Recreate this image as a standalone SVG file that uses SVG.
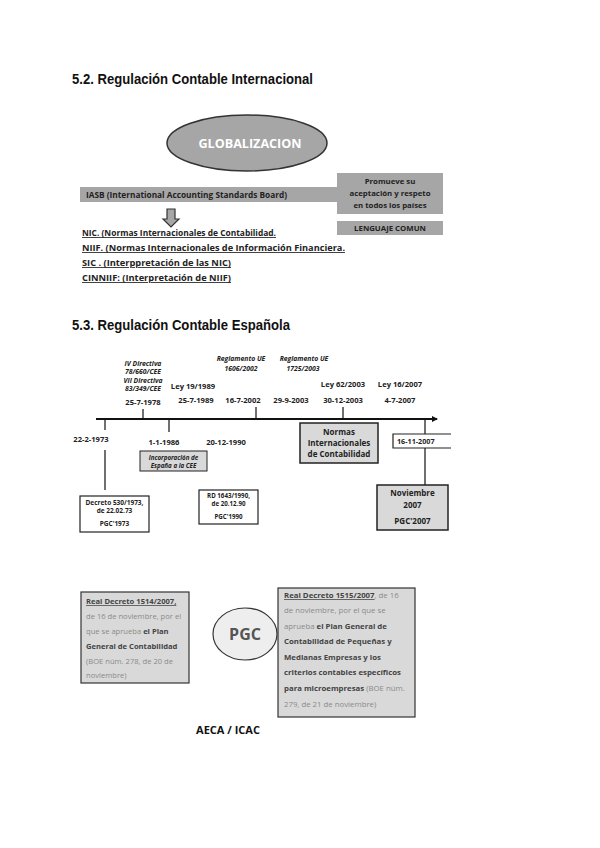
<svg xmlns="http://www.w3.org/2000/svg" width="600" height="848" viewBox="0 0 600 848">
<style>
.t{font-family:"Liberation Sans",Arial,sans-serif;font-weight:bold;fill:#111}
.c{font-family:"Open Sans","Liberation Sans",sans-serif;font-weight:bold;fill:#222}
.i{font-style:italic}
.u{text-decoration:underline}
.g{fill:#8a8a8a;font-weight:normal}
.d{fill:#333}
.mid{fill:#a6a6a6}
.lt{fill:#d9d9d9;stroke:#222;stroke-width:1.5}
.wb{fill:#fff;stroke:#222;stroke-width:1.2}
.ln{stroke:#111;stroke-width:1.2;fill:none}
</style>
<defs>
<marker id="ah" markerWidth="6" markerHeight="6" refX="5" refY="3" orient="auto" markerUnits="userSpaceOnUse"><path d="M0,0 L6,3 L0,6 Z" fill="#111"/></marker>
</defs>
<rect width="600" height="848" fill="#fff"/>

<text class="t" x="72" y="84" font-size="15" textLength="241" lengthAdjust="spacingAndGlyphs">5.2. Regulación Contable Internacional</text>

<g id="globalizacion">
<ellipse cx="247" cy="143" rx="80" ry="28" fill="#a6a6a6" stroke="#333" stroke-width="1.5"/>
<text class="c" x="250" y="148" font-size="13" style="fill:#fff" text-anchor="middle" textLength="103" lengthAdjust="spacingAndGlyphs">GLOBALIZACION</text>
</g>

<g id="iasb">
<rect class="mid" x="80" y="187" width="260" height="15"/>
<text class="c" x="86" y="198" font-size="8" textLength="201" lengthAdjust="spacingAndGlyphs">IASB (International Accounting Standards Board)</text>
</g>

<g id="promueve">
<rect class="mid" x="337" y="173" width="106" height="41"/>
<text class="c" x="390" y="184" font-size="7.8" text-anchor="middle">Promueve su</text>
<text class="c" x="390" y="196" font-size="7.8" text-anchor="middle">aceptación y respeto</text>
<text class="c" x="390" y="208" font-size="7.8" text-anchor="middle">en todos los países</text>
</g>

<g id="lenguaje">
<rect class="mid" x="337" y="221" width="106" height="14"/>
<text class="c" x="390" y="231" font-size="7.8" text-anchor="middle">LENGUAJE COMUN</text>
</g>

<g id="flecha">
<polygon points="167,209 175,209 175,219 179,219 171,227 163,219 167,219" fill="#a6a6a6" stroke="#333" stroke-width="1.2"/>
</g>

<g id="lista">
<text class="c u" x="82" y="236" font-size="8.5" textLength="194" lengthAdjust="spacingAndGlyphs">NIC. (Normas Internacionales de Contabilidad.</text>
<text class="c u" x="82" y="251" font-size="8.5" textLength="263" lengthAdjust="spacingAndGlyphs">NIIF. (Normas Internacionales de Información Financiera.</text>
<text class="c u" x="82" y="266" font-size="8.5" textLength="149" lengthAdjust="spacingAndGlyphs">SIC . (Interppretación de las NIC)</text>
<text class="c u" x="82" y="281" font-size="8.5" textLength="149" lengthAdjust="spacingAndGlyphs">CINNIIF: (Interpretación de NIIF)</text>
</g>

<text class="t" x="72" y="330" font-size="15" textLength="218" lengthAdjust="spacingAndGlyphs">5.3. Regulación Contable Española</text>

<g id="connectors">
<line x1="96" y1="419" x2="437" y2="419" stroke="#111" stroke-width="2" marker-end="url(#ah)"/>
<line class="ln" x1="143" y1="409" x2="143" y2="419"/>
<line class="ln" x1="256" y1="407" x2="256" y2="419"/>
<line class="ln" x1="343" y1="407" x2="343" y2="419"/>
<line class="ln" x1="425" y1="419" x2="425" y2="434"/>
<line class="ln" x1="425" y1="448" x2="425" y2="485"/>
<line class="ln" x1="105" y1="419" x2="105" y2="430"/>
<line class="ln" x1="169" y1="419" x2="169" y2="432"/>
<line class="ln" x1="105" y1="450" x2="105" y2="490"/>
</g>

<g id="labels-top">
<text class="c i" x="143" y="366" font-size="6.8" text-anchor="middle">IV Directiva</text>
<text class="c i" x="143" y="374" font-size="6.8" text-anchor="middle">78/660/CEE</text>
<text class="c i" x="143" y="383" font-size="6.8" text-anchor="middle">VII Directiva</text>
<text class="c i" x="143" y="391" font-size="6.8" text-anchor="middle">83/349/CEE</text>
<text class="c" x="143" y="405" font-size="7.6" text-anchor="middle">25-7-1978</text>
<text class="c" x="193" y="389" font-size="7.6" text-anchor="middle">Ley 19/1989</text>
<text class="c" x="196" y="403" font-size="7.6" text-anchor="middle">25-7-1989</text>
<text class="c i" x="241" y="361" font-size="6.8" text-anchor="middle">Reglamento UE</text>
<text class="c i" x="241" y="371" font-size="6.8" text-anchor="middle">1606/2002</text>
<text class="c" x="243" y="403" font-size="7.6" text-anchor="middle">16-7-2002</text>
<text class="c i" x="304" y="361" font-size="6.8" text-anchor="middle">Reglamento UE</text>
<text class="c i" x="303" y="371" font-size="6.8" text-anchor="middle">1725/2003</text>
<text class="c" x="291" y="403" font-size="7.6" text-anchor="middle">29-9-2003</text>
<text class="c" x="343" y="387" font-size="7.6" text-anchor="middle">Ley 62/2003</text>
<text class="c" x="343" y="403" font-size="7.6" text-anchor="middle">30-12-2003</text>
<text class="c" x="400" y="387" font-size="7.6" text-anchor="middle">Ley 16/2007</text>
<text class="c" x="400" y="403" font-size="7.6" text-anchor="middle">4-7-2007</text>
</g>

<g id="labels-bottom">
<text class="c" x="91" y="442" font-size="7.6" text-anchor="middle">22-2-1973</text>
<text class="c" x="164" y="445" font-size="7.6" text-anchor="middle">1-1-1986</text>
<text class="c" x="226" y="445" font-size="7.6" text-anchor="middle">20-12-1990</text>
</g>

<g id="incorporacion">
<rect x="140" y="451" width="67" height="20" fill="#d9d9d9" stroke="#222" stroke-width="1"/>
<text class="c i" x="173.5" y="459.5" font-size="6.2" text-anchor="middle">Incorporación de</text>
<text class="c i" x="173.5" y="467.5" font-size="6.2" text-anchor="middle">España a la CEE</text>
</g>

<g id="decreto1973">
<rect class="wb" x="80" y="496" width="69" height="36"/>
<text class="c" x="114.5" y="505" font-size="6.5" text-anchor="middle">Decreto 530/1973,</text>
<text class="c" x="114.5" y="513" font-size="6.5" text-anchor="middle">de 22.02.73</text>
<text class="c" x="114.5" y="526" font-size="6.5" text-anchor="middle">PGC'1973</text>
</g>

<g id="rd1990">
<rect class="wb" x="199" y="490" width="59" height="34"/>
<text class="c" x="228.5" y="498" font-size="6.2" text-anchor="middle">RD 1643/1990,</text>
<text class="c" x="228.5" y="506" font-size="6.2" text-anchor="middle">de 20.12.90</text>
<text class="c" x="228.5" y="519" font-size="6.2" text-anchor="middle">PGC'1990</text>
</g>

<g id="normas">
<rect class="lt" x="300" y="423" width="78" height="40"/>
<text class="c" x="339" y="435" font-size="8" text-anchor="middle">Normas</text>
<text class="c" x="339" y="446" font-size="8" text-anchor="middle">Internacionales</text>
<text class="c" x="339" y="457" font-size="8" text-anchor="middle">de Contabilidad</text>
</g>

<g id="f16112007">
<path d="M451,434 H393 V448 H451" fill="#fff" stroke="#222" stroke-width="1.2"/>
<text class="c" x="397" y="444" font-size="7.2">16-11-2007</text>
</g>

<g id="noviembre2007">
<rect class="lt" x="377" y="485" width="71" height="45"/>
<text class="c" x="412.5" y="496" font-size="8" text-anchor="middle">Noviembre</text>
<text class="c" x="412.5" y="508" font-size="8" text-anchor="middle">2007</text>
<text class="c" x="412.5" y="524" font-size="8" text-anchor="middle">PGC'2007</text>
</g>

<g id="rd1514">
<rect x="81" y="592" width="108" height="91" fill="#d9d9d9" stroke="#333" stroke-width="1.2"/>
<text class="c u" x="86" y="604" font-size="7.6" style="fill:#444">Real Decreto 1514/2007<tspan style="text-decoration:none">,</tspan></text>
<text class="c g" x="86" y="619" font-size="7.6">de 16 de noviembre, por el</text>
<text class="c" x="86" y="634" font-size="7.6"><tspan class="g">que se aprueba</tspan><tspan style="fill:#444"> el Plan</tspan></text>
<text class="c" x="86" y="649" font-size="7.6" style="fill:#444">General de Contabilidad</text>
<text class="c g" x="86" y="664" font-size="7.6">(BOE núm. 278, de 20 de</text>
<text class="c g" x="86" y="678" font-size="7.6">noviembre)</text>
</g>

<g id="pgc">
<ellipse cx="245" cy="634" rx="32" ry="26" fill="#eeeeee" stroke="#333" stroke-width="1.2"/>
<text class="c" x="245" y="640" font-size="16" text-anchor="middle" style="fill:#555">PGC</text>
</g>

<g id="rd1515">
<rect x="278" y="588" width="137" height="129" fill="#d9d9d9" stroke="#333" stroke-width="1.2"/>
<text class="c" x="284" y="598" font-size="7.8"><tspan class="u" style="fill:#444">Real Decreto 1515/2007</tspan><tspan class="g">, de 16</tspan></text>
<text class="c g" x="284" y="613" font-size="7.8">de noviembre, por el que se</text>
<text class="c" x="284" y="629" font-size="7.8"><tspan class="g">aprueba</tspan><tspan style="fill:#444"> el Plan General de</tspan></text>
<text class="c" x="284" y="644" font-size="7.8" style="fill:#444">Contabilidad de Pequeñas y</text>
<text class="c" x="284" y="660" font-size="7.8" style="fill:#444">Medianas Empresas y los</text>
<text class="c" x="284" y="675" font-size="7.8" style="fill:#444">criterios contables específicos</text>
<text class="c" x="284" y="691" font-size="7.8"><tspan style="fill:#444">para microempresas</tspan><tspan class="g"> (BOE núm.</tspan></text>
<text class="c g" x="284" y="707" font-size="7.8">279, de 21 de noviembre)</text>
</g>

<g id="aeca">
<text class="c" x="228" y="734" font-size="11" text-anchor="middle" style="fill:#111">AECA / ICAC</text>
</g>
</svg>
